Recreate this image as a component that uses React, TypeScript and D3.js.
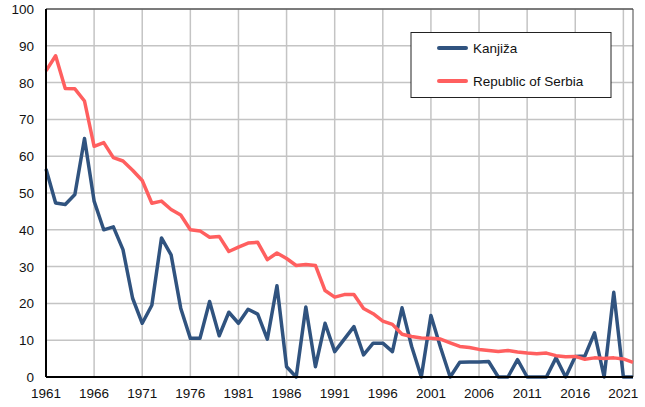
import React, { useEffect, useRef } from "react";
import * as d3 from "d3";

// years 1961..2022
const years = d3.range(1961, 2023);

const kanjiza = [
  56.5, 47.3, 46.9, 49.6, 64.8, 47.8, 40, 40.8, 34.6, 21.4,
  14.6, 19.5, 37.8, 33.2, 18.7, 10.5, 10.5, 20.5, 11.2, 17.6,
  14.6, 18.4, 17.1, 10.3, 24.8, 2.8, 0, 19, 2.8, 14.6,
  6.9, 10.3, 13.7, 6, 9.2, 9.2, 6.9, 18.8, 8.3, 0,
  16.7, 8, 0, 4, 4.1, 4.1, 4.2, 0, 0, 4.7,
  0, 0, 0, 5.2, 0, 5.6, 5.7, 12, 0, 23,
  0, 0,
];

const serbia = [
  83.2, 87.3, 78.4, 78.3, 75, 62.7, 63.7, 59.6, 58.7, 56.2,
  53.4, 47.2, 47.8, 45.5, 44, 40, 39.7, 38, 38.2, 34.1,
  35.3, 36.4, 36.6, 31.9, 33.7, 32.2, 30.3, 30.6, 30.3, 23.5,
  21.7, 22.4, 22.4, 18.6, 17.2, 15.2, 14.3, 11.6, 11, 10.6,
  10.5, 10.3, 9.3, 8.3, 8, 7.5, 7.2, 6.9, 7.2, 6.8,
  6.5, 6.3, 6.5, 5.8, 5.5, 5.6, 4.8, 5.2, 5, 5.2,
  4.9, 4,
];

const xTicks = d3.range(1961, 2022, 5);
const yTicks = d3.range(0, 101, 10);

const seriesNames = ["Kanjiža", "Republic of Serbia"];
const colors = ["#30537f", "#ff5f5f"];

const W = 645;
const H = 407;
const margin = { top: 9, right: 12, bottom: 30, left: 46 };

export default function App() {
  const ref = useRef<SVGSVGElement>(null);

  useEffect(() => {
    const svg = d3.select(ref.current);
    svg.selectAll("*").remove();

    const x = d3
      .scaleLinear()
      .domain([1961, 2022])
      .range([margin.left, W - margin.right]);
    const y = d3
      .scaleLinear()
      .domain([0, 100])
      .range([H - margin.bottom, margin.top]);

    const font = "'Liberation Sans', Arial, sans-serif";

    // grid
    svg
      .append("g")
      .selectAll("line")
      .data(yTicks.slice(1))
      .enter()
      .append("line")
      .attr("x1", margin.left)
      .attr("x2", W - margin.right)
      .attr("y1", (d) => y(d))
      .attr("y2", (d) => y(d))
      .attr("stroke", "#c4c4c4")
      .attr("stroke-width", 1.5);

    svg
      .append("g")
      .selectAll("line")
      .data(xTicks.slice(1))
      .enter()
      .append("line")
      .attr("x1", (d) => x(d))
      .attr("x2", (d) => x(d))
      .attr("y1", margin.top)
      .attr("y2", H - margin.bottom)
      .attr("stroke", "#c4c4c4")
      .attr("stroke-width", 1.5);

    // border top/right
    svg
      .append("line")
      .attr("x1", margin.left)
      .attr("x2", W - margin.right)
      .attr("y1", margin.top)
      .attr("y2", margin.top)
      .attr("stroke", "#222")
      .attr("stroke-width", 1);
    svg
      .append("line")
      .attr("x1", W - margin.right)
      .attr("x2", W - margin.right)
      .attr("y1", margin.top)
      .attr("y2", H - margin.bottom)
      .attr("stroke", "#444")
      .attr("stroke-width", 1);

    // lines
    const line = d3
      .line<number>()
      .x((_, i) => x(years[i]))
      .y((d) => y(d));

    [kanjiza, serbia].forEach((s, i) => {
      svg
        .append("path")
        .datum(s)
        .attr("d", line)
        .attr("fill", "none")
        .attr("stroke", colors[i])
        .attr("stroke-width", 3.5)
        .attr("stroke-linejoin", "round");
    });

    // axes
    svg
      .append("line")
      .attr("x1", margin.left)
      .attr("x2", margin.left)
      .attr("y1", margin.top)
      .attr("y2", H - margin.bottom)
      .attr("stroke", "#000")
      .attr("stroke-width", 2);
    svg
      .append("line")
      .attr("x1", margin.left)
      .attr("x2", W - margin.right)
      .attr("y1", H - margin.bottom)
      .attr("y2", H - margin.bottom)
      .attr("stroke", "#000")
      .attr("stroke-width", 2);

    svg
      .append("g")
      .selectAll("text")
      .data(yTicks)
      .enter()
      .append("text")
      .attr("x", margin.left - 12)
      .attr("y", (d) => y(d) + 5)
      .attr("text-anchor", "end")
      .style("font-family", font)
      .style("font-size", "13.5px")
      .attr("fill", "#111")
      .text((d) => d);

    svg
      .append("g")
      .selectAll("text")
      .data(xTicks)
      .enter()
      .append("text")
      .attr("x", (d) => x(d))
      .attr("y", H - 9)
      .attr("text-anchor", "middle")
      .style("font-family", font)
      .style("font-size", "13.5px")
      .attr("fill", "#111")
      .text((d) => d);

    // legend
    const lg = svg.append("g");
    lg.append("rect")
      .attr("x", 411)
      .attr("y", 32.5)
      .attr("width", 200)
      .attr("height", 65)
      .attr("fill", "#fff")
      .attr("stroke", "#222")
      .attr("stroke-width", 1);
    seriesNames.forEach((name, i) => {
      const ly = 48 + i * 33;
      lg.append("line")
        .attr("x1", 439)
        .attr("x2", 466)
        .attr("y1", ly)
        .attr("y2", ly)
        .attr("stroke", colors[i])
        .attr("stroke-width", 4)
        .attr("stroke-linecap", "round");
      lg.append("text")
        .attr("x", 473)
        .attr("y", ly + 5)
        .style("font-family", font)
        .style("font-size", "13.5px")
        .attr("fill", "#111")
        .text(name);
    });
  }, []);

  return (
    <svg
      ref={ref}
      width={W}
      height={H}
      style={{ position: "absolute", left: 0, top: 0, background: "#fff" }}
    />
  );
}
